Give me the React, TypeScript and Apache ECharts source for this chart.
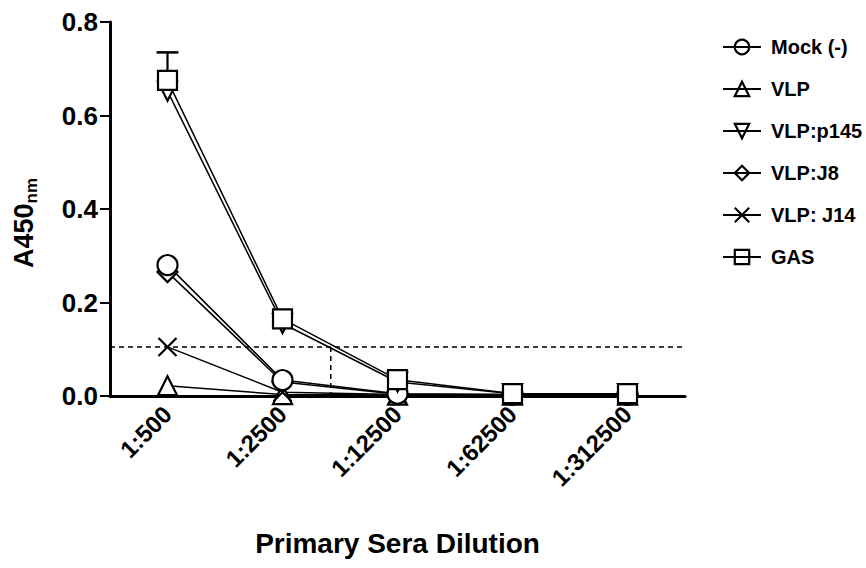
import React, { useEffect, useRef } from "react";
import * as echarts from "echarts";

const categories = ["1:500", "1:2500", "1:12500", "1:62500", "1:312500"];
const mock = [0.28, 0.034, 0.005, 0.003, 0.003];
const vlp = [0.022, 0.003, 0.002, 0.002, 0.002];
const vlpP145 = [0.652, 0.155, 0.03, 0.005, 0.005];
const vlpJ8 = [0.265, 0.03, 0.004, 0.003, 0.003];
const vlpJ14 = [0.105, 0.008, 0.003, 0.002, 0.002];
const gas = [0.675, 0.165, 0.035, 0.005, 0.005];
const gasErrorTop = [0.735];
const cutoff = 0.105;
const cutoffDilutionPos = 1.42;
const yTicks = [0, 0.2, 0.4, 0.6, 0.8];

const FONT = "'Liberation Sans', Arial, sans-serif";
const X_PATH = "path://M0,0L10,10M10,0L0,10";

export default function App() {
  const ref = useRef<HTMLDivElement>(null);
  useEffect(() => {
    if (!ref.current) return;
    const chart = echarts.init(ref.current, null, { renderer: "svg" });
    const mk = (name: string, data: number[], symbol: string, size: number, extra: any = {}) => ({
      name,
      type: "line",
      xAxisIndex: 0,
      yAxisIndex: 0,
      data,
      symbol,
      symbolSize: size,
      showAllSymbol: true,
      lineStyle: { color: "#000", width: 1.5 },
      itemStyle: { color: "#fff", borderColor: "#000", borderWidth: 2.2 },
      emphasis: { disabled: true },
      ...extra,
    });
    const option: any = {
      animation: false,
      backgroundColor: "#fff",
      grid: { left: 110, top: 22, width: 575, height: 374, containLabel: false },
      legend: {
        orient: "vertical",
        left: 717,
        top: 32,
        itemWidth: 38,
        itemHeight: 18,
        itemGap: 22,
        itemStyle: { color: "rgba(0,0,0,0)", borderColor: "#000", borderWidth: 2.2 },
        textStyle: {
          fontFamily: FONT,
          fontSize: 20,
          color: "#000",
          fontWeight: "bold",
          padding: [0, 0, 0, 5],
        },
        data: ["Mock (-)", "VLP", "VLP:p145", "VLP:J8", "VLP: J14", "GAS"],
      },
      xAxis: [
        {
          type: "category",
          data: categories,
          boundaryGap: true,
          name: "Primary Sera Dilution",
          nameLocation: "middle",
          nameGap: 133,
          nameTextStyle: { fontFamily: FONT, fontSize: 28, fontWeight: "bold", color: "#000" },
          axisLine: { lineStyle: { color: "#000", width: 3 } },
          axisTick: { alignWithLabel: true, length: 10, lineStyle: { color: "#000", width: 2 } },
          axisLabel: {
            rotate: 45,
            margin: 14,
            fontFamily: FONT,
            fontSize: 24,
            fontWeight: "bold",
            color: "#000",
          },
          splitLine: { show: false },
        },
        {
          type: "value",
          min: -0.5,
          max: 4.5,
          show: false,
        },
      ],
      yAxis: {
        type: "value",
        min: yTicks[0],
        max: yTicks[yTicks.length - 1],
        interval: 0.2,
        name: "{a|A450}{b|nm}",
        nameLocation: "middle",
        nameGap: 70,
        nameRotate: 90,
        nameTextStyle: {
          padding: [0, 28, 0, 0],
          rich: {
            a: { fontFamily: FONT, fontSize: 27, fontWeight: "bold", color: "#000" },
            b: {
              fontFamily: FONT,
              fontSize: 17,
              fontWeight: "bold",
              color: "#000",
              padding: [16, 0, 0, 0],
            },
          },
        },
        axisLine: { show: true, onZero: false, lineStyle: { color: "#000", width: 3 } },
        axisTick: { show: true, length: 10, lineStyle: { color: "#000", width: 2 } },
        axisLabel: {
          fontFamily: FONT,
          fontSize: 26,
          fontWeight: "bold",
          color: "#000",
          margin: 12,
          formatter: (v: number) => v.toFixed(1),
        },
        splitLine: { show: false },
      },
      series: [
        {
          name: "cutoffH",
          type: "line",
          xAxisIndex: 1,
          yAxisIndex: 0,
          data: [[-0.5, cutoff], [4.5, cutoff]],
          symbol: "none",
          lineStyle: { color: "#000", width: 1.5, type: [5, 4] },
          silent: true,
          z: 1,
        },
        {
          name: "cutoffV",
          type: "line",
          xAxisIndex: 1,
          yAxisIndex: 0,
          data: [[cutoffDilutionPos, cutoff], [cutoffDilutionPos, 0]],
          symbol: "none",
          lineStyle: { color: "#000", width: 1.5, type: [5, 4] },
          silent: true,
          z: 1,
        },
        {
          name: "gasError",
          type: "custom",
          xAxisIndex: 0,
          yAxisIndex: 0,
          data: gasErrorTop.map((t, i) => [i, gas[i], t]),
          renderItem: (params: any, api: any) => {
            const p0 = api.coord([api.value(0), api.value(1)]);
            const p1 = api.coord([api.value(0), api.value(2)]);
            return {
              type: "group",
              children: [
                {
                  type: "line",
                  shape: { x1: p0[0], y1: p0[1], x2: p1[0], y2: p1[1] },
                  style: { stroke: "#000", lineWidth: 2.2 },
                },
                {
                  type: "line",
                  shape: { x1: p1[0] - 11, y1: p1[1], x2: p1[0] + 11, y2: p1[1] },
                  style: { stroke: "#000", lineWidth: 2.5 },
                },
              ],
            };
          },
          z: 1,
        },
        mk("VLP", vlp, "triangle", 19),
        mk("VLP: J14", vlpJ14, X_PATH, 18, {
          itemStyle: { color: "none", borderColor: "#000", borderWidth: 2.2 },
        }),
        mk("VLP:J8", vlpJ8, "diamond", 20),
        mk("Mock (-)", mock, "circle", 20),
        mk("VLP:p145", vlpP145, "triangle", 19, { symbolRotate: 180 }),
        mk("GAS", gas, "rect", 19),
      ],
    };
    chart.setOption(option);
    return () => chart.dispose();
  }, []);
  return (
    <div
      ref={ref}
      style={{ position: "fixed", left: 0, top: 0, width: 866, height: 568 }}
    />
  );
}
